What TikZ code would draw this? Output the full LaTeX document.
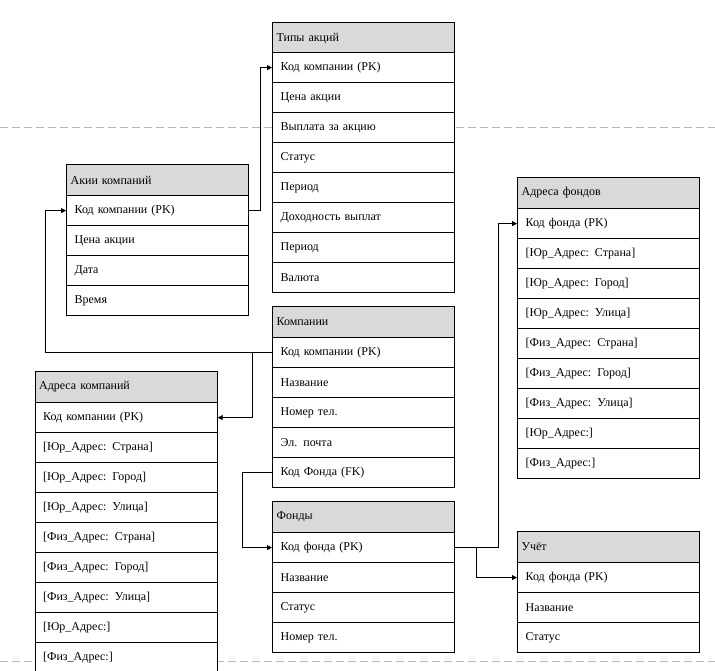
\documentclass[tikz,border=0pt]{standalone}
\usepackage{fontspec}
\setmainfont{Liberation Serif}
\usetikzlibrary{arrows.meta,calc}
\definecolor{headgray}{HTML}{D9D9D9}

\begin{document}
\begin{tikzpicture}[
    x=1pt, y=-1pt,
    font=\fontsize{12}{14}\selectfont,
    tablehead/.style={draw, line width=1.2pt, fill=headgray, anchor=north west, minimum height=31pt,
                      text width=174pt, inner xsep=4pt, align=left},
    tablerow/.style={draw, line width=1.2pt, fill=white, anchor=north west, minimum height=30pt,
                     text width=166pt, inner xsep=8pt, align=left},
    link/.style={line width=0.9pt, -{Triangle[length=5pt, width=5pt]}},
    guide/.style={gray!55, line width=1pt, dash pattern=on 8pt off 4pt},
]

\useasboundingbox (0,0) rectangle (715,671);

% Dashed guide lines (behind the tables)
\draw[guide] (0,128) -- (715,128);
\draw[guide] (0,661) -- (715,661);

% Table: Типы акций
\node[tablehead] (tipy-h) at (272,22) {Типы акций};
\foreach \txt [count=\i] in {Код компании (PK), Цена акции, Выплата за акцию, Статус,
                              Период, Доходность выплат, Период, Валюта} {
    \node[tablerow] (tipy-\i) at (272,{52+30*(\i-1)}) {\txt};
}

% Table: Акии компаний
\node[tablehead] (akii-h) at (66,164) {Акии компаний};
\foreach \txt [count=\i] in {Код компании (PK), Цена акции, Дата, Время} {
    \node[tablerow] (akii-\i) at (66,{195+30*(\i-1)}) {\txt};
}

% Table: Компании
\node[tablehead] (komp-h) at (272,306) {Компании};
\foreach \txt [count=\i] in {Код компании (PK), Название, Номер тел., Эл. почта, Код Фонда (FK)} {
    \node[tablerow] (komp-\i) at (272,{337+30*(\i-1)}) {\txt};
}

% Table: Адреса компаний
\node[tablehead] (adrk-h) at (34.5,371) {Адреса компаний};
\foreach \txt [count=\i] in {Код компании (PK), {[Юр\_Адрес: Страна]}, {[Юр\_Адрес: Город]},
                              {[Юр\_Адрес: Улица]}, {[Физ\_Адрес: Страна]}, {[Физ\_Адрес: Город]},
                              {[Физ\_Адрес: Улица]}, {[Юр\_Адрес:]}, {[Физ\_Адрес:]}} {
    \node[tablerow] (adrk-\i) at (34.5,{402+30*(\i-1)}) {\txt};
}

% Table: Фонды
\node[tablehead] (fond-h) at (272,501) {Фонды};
\foreach \txt [count=\i] in {Код фонда (PK), Название, Статус, Номер тел.} {
    \node[tablerow] (fond-\i) at (272,{532+30*(\i-1)}) {\txt};
}

% Table: Адреса фондов
\node[tablehead] (adrf-h) at (517,177) {Адреса фондов};
\foreach \txt [count=\i] in {Код фонда (PK), {[Юр\_Адрес: Страна]}, {[Юр\_Адрес: Город]},
                              {[Юр\_Адрес: Улица]}, {[Физ\_Адрес: Страна]}, {[Физ\_Адрес: Город]},
                              {[Физ\_Адрес: Улица]}, {[Юр\_Адрес:]}, {[Физ\_Адрес:]}} {
    \node[tablerow] (adrf-\i) at (517,{208+30*(\i-1)}) {\txt};
}

% Table: Учёт
\node[tablehead] (uchet-h) at (517,531) {Учёт};
\foreach \txt [count=\i] in {Код фонда (PK), Название, Статус} {
    \node[tablerow] (uchet-\i) at (517,{562+30*(\i-1)}) {\txt};
}

% Links between keys
\draw[link] (akii-1.east) -- ++(11,0) |- (tipy-1.west);
\draw[link] (komp-1.west) -- ++(-227,0) |- (akii-1.west);
\draw[link] (komp-1.west) -- ++(-20,0) |- (adrk-1.east);
\draw[link] (komp-5.west) -- ++(-30,0) |- (fond-1.west);
\draw[link] (fond-1.east) -- ++(43,0) |- (adrf-1.west);
\draw[link] (fond-1.east) -- ++(21,0) |- (uchet-1.west);

\end{tikzpicture}
\end{document}
